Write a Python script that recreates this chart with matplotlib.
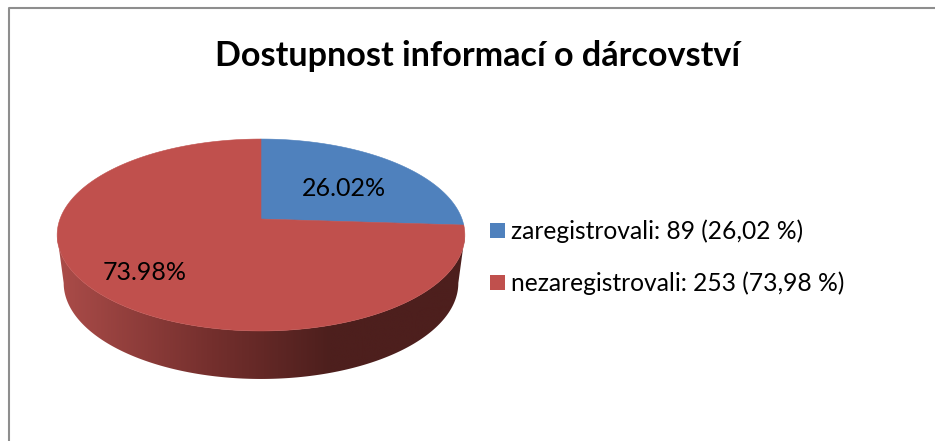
import numpy as np
import matplotlib
matplotlib.use("Agg")
import matplotlib.pyplot as plt
from matplotlib.colors import LinearSegmentedColormap
from matplotlib.patches import Polygon, Rectangle

title = "Dostupnost informací o dárcovství"
categories = ["zaregistrovali", "nezaregistrovali"]
counts = [89, 253]
percents = [26.02, 73.98]
pct_labels = ["26.02%", "73.98%"]
legend_labels = ["zaregistrovali: 89 (26,02 %)", "nezaregistrovali: 253 (73,98 %)"]
colors = ["#4F81BD", "#C0504D"]

plt.rcParams["font.family"] = ["Lato", "DejaVu Sans"]
fig = plt.figure(figsize=(9.35, 4.41), dpi=100, facecolor="white")
ax = fig.add_axes([0, 0, 1, 1])
ax.set_xlim(0, 935)
ax.set_ylim(441, 0)
ax.axis("off")

# chart frame (only top and left edges visible in the crop)
ax.plot([8.5, 8.5, 935], [441, 7.5, 7.5], color="#8E8E8E", lw=1.5, solid_capstyle="butt", zorder=1)

# perspective projection of the unit disc onto the page
CX, CY, M, K, C = 261.0, 219.0, 201.0, 93.3, 0.1667
def project(x, y):
    w = 1 + C * y
    return CX + M * x / w, CY - K * y / w

def wedge(start_deg, end_deg):
    t = np.radians(np.linspace(start_deg, end_deg, 200))
    px, py = project(np.sin(t), np.cos(t))
    vx, vy = project(0.0, 0.0)
    return np.r_[vx, px], np.r_[vy, py]

# side wall: front part of the outline (between its widest points) dropped by the depth
DEPTH, SHRINK = 48.0, 0.968
t0 = np.degrees(np.arccos(-C))
t = np.radians(np.linspace(t0, 360 - t0, 300))
ox, oy = project(np.sin(t), np.cos(t))
lx = CX + (ox - CX) * SHRINK
ly = oy + DEPTH
side = np.c_[np.r_[ox, lx[::-1]], np.r_[oy, ly[::-1]]]
cmap = LinearSegmentedColormap.from_list("side", [(0, "#4D1F1D"), (0.33, "#4D1F1D"), (0.62, "#742F2D"), (1, "#AB4C49")])
grad = np.linspace(1, 0, 400)[None, :]
im = ax.imshow(grad, extent=(57, 465, 385, 230), cmap=cmap, aspect="auto", zorder=2, vmin=0, vmax=1)
im.set_clip_path(Polygon(side, transform=ax.transData))
ax.set_xlim(0, 935)
ax.set_ylim(441, 0)

# top face, drawn from the data
total = sum(counts)
angle = 0.0
for value, col in zip(counts, colors):
    sweep = 360.0 * value / total
    xs, ys = wedge(angle, angle + sweep)
    ax.fill(xs, ys, color=col, lw=0.4, zorder=3)
    angle += sweep

# percentage labels
ax.text(343.5, 188, pct_labels[0], fontsize=18, ha="center", va="center", color="black", zorder=4)
ax.text(145, 273, pct_labels[1], fontsize=18, ha="center", va="center", color="black", zorder=4)

# title
ax.text(477.5, 56, title, fontsize=24.6, fontweight="bold", ha="center", va="center", color="black", zorder=4)

# legend
for y, label, col in zip([231, 283], legend_labels, colors):
    ax.add_patch(Rectangle((490, y - 8), 15, 15, facecolor=col, edgecolor="none", zorder=4))
    ax.text(511, y, label, fontsize=17.7, ha="left", va="center", color="black", zorder=4)

fig.savefig("out.png", dpi=100)
